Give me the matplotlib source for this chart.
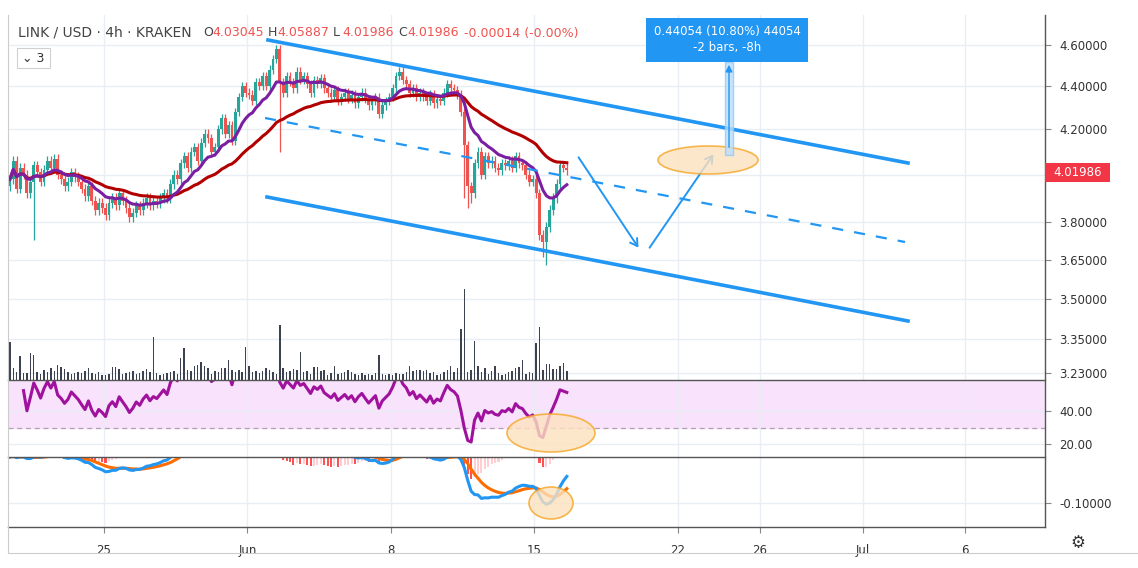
import numpy as np
import pandas as pd
import matplotlib
matplotlib.use("Agg")
import matplotlib.pyplot as plt
from matplotlib.patches import Ellipse, Rectangle, FancyArrowPatch
from matplotlib.lines import Line2D

W, H = 1138, 568
# ---------------- data ----------------
closes = [
 3.98,4.06,3.94,4.03,4.00,3.92,3.97,4.04,4.01,3.97,
 4.02,4.06,4.03,4.07,4.00,3.98,3.95,3.97,4.01,3.99,
 3.97,3.94,3.91,3.95,3.89,3.85,3.88,3.86,3.83,3.88,
 3.90,3.87,3.92,3.89,3.86,3.82,3.84,3.87,3.85,3.88,
 3.90,3.87,3.89,3.88,3.90,3.92,3.90,3.96,4.00,3.98,
 4.05,4.08,4.03,4.10,4.12,4.06,4.14,4.18,4.16,4.10,
 4.12,4.20,4.25,4.18,4.22,4.15,4.28,4.35,4.40,4.37,
 4.36,4.33,4.42,4.40,4.45,4.40,4.48,4.53,4.58,4.42,
 4.37,4.45,4.42,4.39,4.47,4.43,4.45,4.41,4.37,4.43,
 4.41,4.44,4.39,4.37,4.35,4.38,4.33,4.35,4.37,4.34,
 4.36,4.32,4.35,4.37,4.34,4.31,4.33,4.35,4.27,4.31,
 4.33,4.35,4.39,4.45,4.47,4.43,4.41,4.37,4.39,4.35,
 4.37,4.35,4.33,4.36,4.32,4.34,4.33,4.37,4.41,4.39,
 4.38,4.36,4.28,4.13,3.95,3.92,4.05,4.10,4.00,4.08,
 4.05,4.06,4.03,4.02,4.05,4.04,4.06,4.03,4.08,4.05,
 4.04,4.00,3.97,3.98,3.92,3.75,3.72,3.78,3.85,3.90,
 3.96,4.04,4.03,4.02]
first_open = 3.95
long_wick_idx = [7, 79, 133, 134, 135, 156, 157]
long_wick_low = [3.73, 4.10, 3.90, 3.86, 3.88, 3.66, 3.63]
volumes = [
 38,12,8,24,7,7,27,25,8,6, 10,8,12,9,15,13,11,8,6,7,
 8,7,9,12,7,6,8,5,5,6, 13,13,11,6,7,8,9,6,7,9,
 11,8,43,7,5,6,7,8,9,6, 22,32,10,9,14,15,18,14,12,6,
 9,8,12,12,20,10,8,10,8,33, 14,8,9,7,9,12,10,8,6,55,
 12,8,9,11,10,28,8,9,6,13, 13,9,10,5,7,14,6,7,8,10,
 8,6,5,7,5,6,5,7,25,6, 5,6,5,7,6,6,8,14,9,10,
 10,9,10,7,8,5,6,8,10,14, 8,12,51,91,8,10,39,14,8,12,
 6,9,14,7,5,6,8,9,12,13, 20,6,8,7,37,53,10,16,16,11,
 11,14,17,9]
start_day = -4.59          # days relative to May 25
tick_pos = [0, 7, 14, 21, 28, 32, 37, 42]
tick_lab = ["25", "Jun", "8", "15", "22", "26", "Jul", "6"]
price_ticks = [4.6, 4.4, 4.2, 4.0, 3.8, 3.65, 3.5, 3.35, 3.23]

c = np.array(closes)
o = np.concatenate([[first_open], c[:-1]])
hi = np.maximum(o, c) + 0.02
lo = np.minimum(o, c) - 0.02
for i, v in zip(long_wick_idx, long_wick_low):
    lo[i] = v
x = start_day + np.arange(len(c)) / 6.0
s = pd.Series(c)
ma_fast = s.ewm(span=12).mean()
ma_slow = s.ewm(span=40).mean()
d = s.diff().fillna(0)
up = d.clip(lower=0).ewm(alpha=1/14).mean()
dn = (-d.clip(upper=0)).ewm(alpha=1/14).mean()
rsi = 100 - 100 / (1 + up / dn.replace(0, 1e-9))
rsi.iloc[:4] = np.nan
macd = s.ewm(span=12).mean() - s.ewm(span=26).mean()
sig = macd.ewm(span=9).mean()
hist = macd - sig

# ---------------- layout ----------------
fig = plt.figure(figsize=(W/100, H/100), dpi=100)
def rect(x0, y0, x1, y1):
    return [x0/W, 1-y1/H, (x1-x0)/W, (y1-y0)/H]
def P(px, py):
    return (px/W, 1-py/H)

axv = fig.add_axes(rect(8, 15, 1045, 380))
axp = fig.add_axes(rect(8, 15, 1045, 380), sharex=axv)
axr = fig.add_axes(rect(8, 380, 1045, 457), sharex=axv)
axm = fig.add_axes(rect(8, 457, 1045, 527), sharex=axv)
xl = (-4.68, 45.9)
grid_c = "#e8eef4"
txt_c = "#333333"
for a in (axp, axv, axr, axm):
    for sp in a.spines.values():
        sp.set_visible(False)
    a.set_xlim(*xl)
axp.patch.set_visible(False)

# volume
axv.bar(x, volumes, width=0.07, color="#3d4250")
axv.set_ylim(0, 365)
axv.set_yticks([]); axv.tick_params(bottom=False, labelbottom=False)
for t in tick_pos:
    axv.axvline(t, color=grid_c, lw=1, zorder=0)

# price
axp.set_yscale("log")
axp.set_ylim(3.206, 4.751)
axp.set_yticks(price_ticks)
axp.yaxis.set_minor_locator(matplotlib.ticker.NullLocator())
axp.set_yticklabels(["%.5f" % v if v != 4.0 else "" for v in price_ticks])
axp.yaxis.tick_right()
axp.tick_params(axis="y", length=4, color="#888", labelsize=8.5, labelcolor=txt_c, pad=6)
axp.tick_params(axis="x", bottom=False, labelbottom=False)
for v in price_ticks:
    axv.axhline(np.interp(np.log(v), [np.log(3.206), np.log(4.751)], [0, 365]),
                color=grid_c, lw=1, zorder=0)
upc, dnc = "#26a69a", "#ef5350"
cols = np.where(c >= o, upc, dnc)
axp.vlines(x, lo, hi, colors=cols, lw=0.9, zorder=2)
axp.bar(x, np.maximum(np.abs(c - o), 0.004), bottom=np.minimum(o, c), width=0.14,
        color=cols, zorder=3)
axp.plot(x, ma_slow, color="#b20000", lw=2.2, zorder=4)
axp.plot(x, ma_fast, color="#7b1fa2", lw=2.2, zorder=5)

# RSI
axr.set_ylim(12, 59)
axr.axhspan(30, 70, color="#f9e2fb", zorder=0)
axr.axhline(30, color="#b0a0b0", lw=0.9, ls=(0, (4, 3)))
for v in (40, 20):
    axr.axhline(v, color=grid_c, lw=1, zorder=0)
for t in tick_pos:
    axr.axvline(t, color=grid_c, lw=1, zorder=0)
axr.plot(x, rsi, color="#a0129e", lw=2.2, zorder=3)
axr.yaxis.tick_right()
axr.set_yticks([40, 20]); axr.set_yticklabels(["40.00", "20.00"])
axr.tick_params(axis="y", length=4, color="#888", labelsize=8.5, labelcolor=txt_c, pad=6)
axr.tick_params(axis="x", bottom=False, labelbottom=False)

# MACD
axm.set_ylim(-0.152, 0)
for t in tick_pos:
    axm.axvline(t, color=grid_c, lw=1, zorder=0)
axm.axhline(-0.1, color=grid_c, lw=1, zorder=0)
hcol = np.where(hist.diff().fillna(0) < 0, "#ff5252", "#ffcdd2")
axm.bar(x, hist, width=0.1, color=hcol, zorder=2)
axm.plot(x, sig, color="#ff6d00", lw=2.2, zorder=3)
axm.plot(x, macd, color="#2196f3", lw=2.2, zorder=4)
axm.yaxis.tick_right()
axm.set_yticks([-0.1]); axm.set_yticklabels(["-0.10000"])
axm.tick_params(axis="y", length=4, color="#888", labelsize=8.5, labelcolor=txt_c, pad=6)
axm.set_xticks(tick_pos); axm.set_xticklabels(tick_lab)
axm.tick_params(axis="x", length=4, color="#888", labelsize=8.5, labelcolor=txt_c, pad=8)

# separators / frame
def seg(p0, p1, **kw):
    fig.add_artist(Line2D([P(*p0)[0], P(*p1)[0]], [P(*p0)[1], P(*p1)[1]], **kw))
for yy in (380, 457, 527):
    seg((8, yy), (1045, yy), color="#555", lw=1)
seg((1045, 15), (1045, 527), color="#555", lw=1)
seg((8, 15), (8, 553), color="#ccc", lw=0.8)
seg((8, 553), (1138, 553), color="#ccc", lw=0.8)

# drawings
blue = "#2196f3"
seg((268, 40), (908, 163), color=blue, lw=2.6)
seg((267, 197), (908, 321), color=blue, lw=2.6)
seg((265, 118), (905, 242), color=blue, lw=1.6, ls=(0, (5, 5)))
for a0, a1 in (((577, 155), (640, 250)), ((648, 250), (715, 152))):
    fig.add_artist(FancyArrowPatch(P(*a0), P(*a1), transform=fig.transFigure,
                                   arrowstyle="->,head_length=5,head_width=3",
                                   color=blue, lw=1.4))
orange_f, orange_e = "#fde2bf", "#f5a623"
for (cx, cy, w, h) in ((708, 160, 100, 28), (551, 433, 88, 38), (551, 503, 44, 32)):
    e = Ellipse(P(cx, cy), w/W, h/H, transform=fig.transFigure,
                facecolor=orange_f, edgecolor=orange_e, lw=1.2, alpha=0.8, zorder=10)
    fig.add_artist(e)
# measure tool
fig.add_artist(Rectangle(P(725, 155), 8/W, 93/H, transform=fig.transFigure,
                         facecolor="#bbdefb", edgecolor="#90caf9", alpha=0.8, zorder=11))
fig.add_artist(FancyArrowPatch(P(729, 150), P(729, 62), transform=fig.transFigure,
                               arrowstyle="-|>,head_length=4,head_width=2", color=blue, lw=1, zorder=12))
fig.add_artist(Rectangle(P(646, 62), 162/W, 44/H, transform=fig.transFigure,
                         facecolor="#2196f3", edgecolor="none", zorder=12))
fig.text(*P(727, 31), "0.44054 (10.80%) 44054", color="white", fontsize=8.5,
         ha="center", va="center", zorder=13)
fig.text(*P(727, 48), "-2 bars, -8h", color="white", fontsize=8.5, ha="center", va="center", zorder=13)

# last price label
fig.add_artist(Rectangle(P(1045, 182), 65/W, 19/H, transform=fig.transFigure,
                         facecolor="#f23645", edgecolor="none", zorder=12))
fig.text(*P(1078, 172.5), "%.5f" % 4.01986, color="white", fontsize=8.5,
         ha="center", va="center", zorder=13)

# header
fig.text(*P(18, 33), "LINK / USD · 4h · KRAKEN", color="#444", fontsize=10, va="center")
hdr = [("O", "4.03045"), ("H", "4.05887"), ("L", "4.01986"), ("C", "4.01986")]
xx = 203
for k, v in hdr:
    fig.text(*P(xx, 33), k, color="#444", fontsize=9, va="center")
    fig.text(*P(xx + 9, 33), v, color="#ef5350", fontsize=9, va="center")
    xx += 65
fig.text(*P(xx + 1, 33), "-0.00014 (-0.00%)", color="#ef5350", fontsize=9, va="center")
fig.add_artist(Rectangle(P(17, 68), 33/W, 20/H, transform=fig.transFigure,
                         facecolor="white", edgecolor="#d0d0d0", lw=0.8, zorder=12))
fig.text(*P(33, 58), "⌄ 3", color="#333", fontsize=9, ha="center", va="center", zorder=13)
fig.text(*P(1078, 543), "⚙", color="#333", fontsize=12, ha="center", va="center")

fig.savefig("out.png", dpi=100)
